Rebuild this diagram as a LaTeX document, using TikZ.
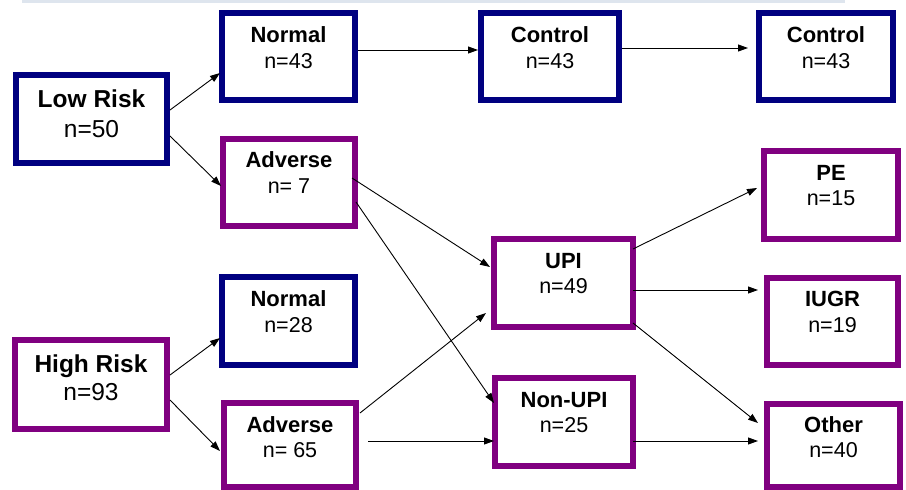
\documentclass[tikz,border=0pt]{standalone}
\usepackage{fontspec}
\setmainfont{Liberation Sans}
\usetikzlibrary{calc,arrows.meta}
\definecolor{navyb}{RGB}{0,0,128}
\definecolor{purpb}{RGB}{128,0,128}
\definecolor{topline}{RGB}{222,229,238}
\tikzset{
  boxb/.style={draw, line width=6pt, inner sep=0pt, fill=white},
  navybox/.style={boxb, draw=navyb},
  purpbox/.style={boxb, draw=purpb},
  ttl/.style={anchor=base, inner sep=0pt, font=\fontsize{22}{22}\selectfont\bfseries},
  num/.style={anchor=base, inner sep=0pt, font=\fontsize{21.5}{21.5}\selectfont},
  bigttl/.style={anchor=base, inner sep=0pt, font=\fontsize{24.5}{24.5}\selectfont\bfseries},
  bignum/.style={anchor=base, inner sep=0pt, font=\fontsize{24.5}{24.5}\selectfont},
  conn/.style={line width=0.9pt, -{Triangle[length=10pt,width=7pt]}}
}
\begin{document}
\begin{tikzpicture}[x=1pt,y=-1pt]
\useasboundingbox (0,0) rectangle (906,490);
\fill[topline] (22,0) rectangle (845,2.5);
% boxes
\node[navybox, minimum width=151pt, minimum height=88pt] (lr) at (91.5,119) {};
\node[navybox, minimum width=133pt, minimum height=87pt] (n1) at (288.5,56.5) {};
\node[navybox, minimum width=138pt, minimum height=87pt] (c1) at (550,56.5) {};
\node[navybox, minimum width=134pt, minimum height=87pt] (c2) at (826,56.5) {};
\node[purpbox, minimum width=132pt, minimum height=87pt] (a1) at (289,182.5) {};
\node[navybox, minimum width=133pt, minimum height=88pt] (n2) at (288.5,321) {};
\node[purpbox, minimum width=152pt, minimum height=89pt] (hr) at (91,384.5) {};
\node[purpbox, minimum width=132pt, minimum height=84pt] (a2) at (290,445) {};
\node[purpbox, minimum width=139pt, minimum height=88pt] (upi) at (563.5,283) {};
\node[purpbox, minimum width=138pt, minimum height=88pt] (nupi) at (564,422) {};
\node[purpbox, minimum width=134pt, minimum height=88pt] (pe) at (831,195) {};
\node[purpbox, minimum width=131pt, minimum height=87pt] (iugr) at (832.5,321.5) {};
\node[purpbox, minimum width=133pt, minimum height=83pt] (oth) at (833.5,445.5) {};
% texts
\node[bigttl] (lrt) at (91.5,107) {Low Risk};
\node[bignum] (lrn) at (91.5,137) {n=50};
\node[bigttl] (hrt) at (91,372) {High Risk};
\node[bignum] (hrn) at (91,400) {n=93};
\node[ttl] (n1t) at (288.5,42) {Normal};
\node[num] (n1n) at (288.5,68) {n=43};
\node[ttl] (c1t) at (550,42) {Control};
\node[num] (c1n) at (550,68) {n=43};
\node[ttl] (c2t) at (826,42) {Control};
\node[num] (c2n) at (826,68) {n=43};
\node[ttl] (a1t) at (289,167) {Adverse};
\node[num] (a1n) at (289,193) {n= 7};
\node[ttl] (n2t) at (288.5,306) {Normal};
\node[num] (n2n) at (288.5,332) {n=28};
\node[ttl] (a2t) at (290,432) {Adverse};
\node[num] (a2n) at (290,457) {n= 65};
\node[ttl] (upit) at (563.5,268) {UPI};
\node[num] (upin) at (563.5,293) {n=49};
\node[ttl] (nupit) at (564,407) {Non-UPI};
\node[num] (nupin) at (564,432) {n=25};
\node[ttl] (pet) at (831,180) {PE};
\node[num] (pen) at (831,205) {n=15};
\node[ttl] (iugrt) at (832.5,306) {IUGR};
\node[num] (iugrn) at (832.5,332) {n=19};
\node[ttl] (otht) at (833.5,432) {Other};
\node[num] (othn) at (833.5,457) {n=40};
% connectors
\draw[conn] ($(lr.east)+(0,-9)$) -- ($(n1.west)+(1,16.5)$);
\draw[conn] ($(lr.east)+(0,17)$) -- ($(a1.west)+(1,3.5)$);
\draw[conn] ($(n1.east)+(0,-6.5)$) -- ($(c1.west)+(0,-6.5)$);
\draw[conn] ($(c1.east)+(0,-8.5)$) -- ($(c2.west)+(-8,-8.5)$);
\draw[conn] ($(a1.east)+(-6,-4.5)$) -- ($(upi.west)+(-1,-16)$);
\draw[conn] ($(a1.east)+(-2,19.5)$) -- ($(nupi.west)+(2,-19)$);
\draw[conn] ($(a2.east)+(1,-32)$) -- ($(upi.west)+(-5,30)$);
\draw[conn] ($(a2.east)+(9,-4)$) -- ($(nupi.west)+(2,19)$);
\draw[conn] ($(hr.east)+(0,-9.5)$) -- ($(n2.west)+(1,17)$);
\draw[conn] ($(hr.east)+(0,15.5)$) -- ($(a2.west)+(-1,6)$);
\draw[conn] ($(upi.east)+(-3,-34)$) -- ($(pe.west)+(-4,-7)$);
\draw[conn] ($(upi.east)+(-3,7)$) -- ($(iugr.west)+(-6,-31.5)$);
\draw[conn] ($(upi.east)+(-3,40)$) -- ($(oth.west)+(-6,-22.5)$);
\draw[conn] ($(nupi.east)+(-3,19)$) -- ($(oth.west)+(-6,-4.5)$);
\end{tikzpicture}
\end{document}
